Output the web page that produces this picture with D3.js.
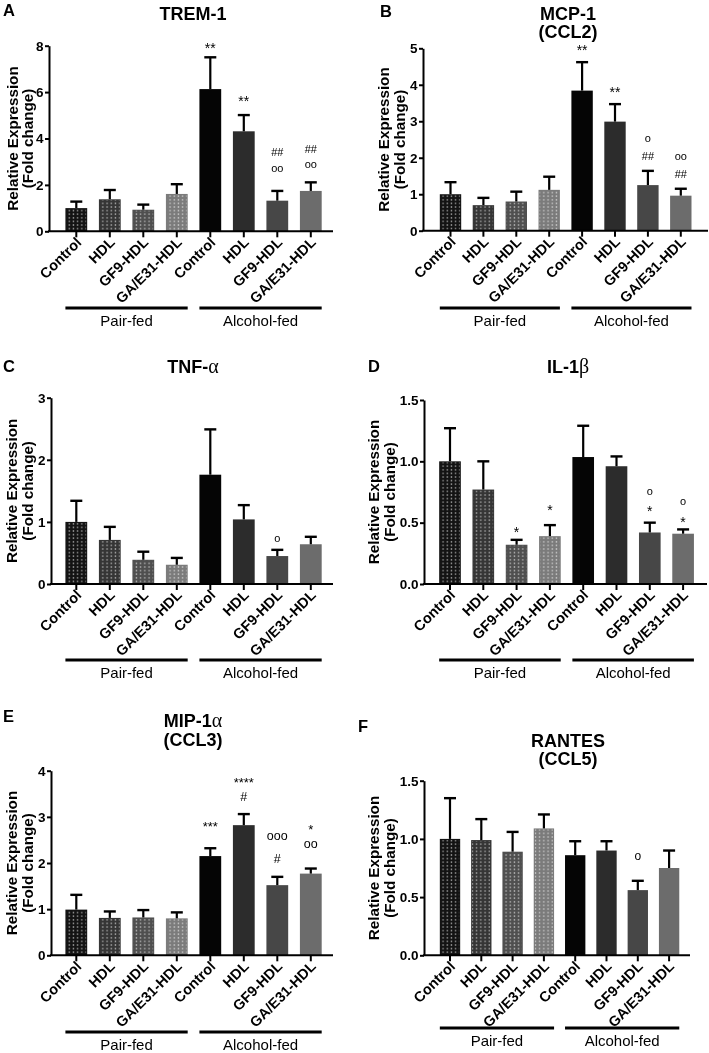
<!DOCTYPE html>
<html><head><meta charset="utf-8">
<script src="https://cdn.jsdelivr.net/npm/d3@7"></script>
<style>
body{margin:0;background:#fff}
svg{display:block;will-change:transform}
text{font-family:"Liberation Sans",Arial,Helvetica,sans-serif;fill:#000}
</style>
</head><body>
<svg id="chart" width="709" height="1053"></svg>
<script>
// ---------------- DATA ----------------
const categories = ["Control","HDL","GF9-HDL","GA/E31-HDL","Control","HDL","GF9-HDL","GA/E31-HDL"];
const groups = ["Pair-fed","Alcohol-fed"];

const trem1Mean = [1.00,1.38,0.93,1.61,6.13,4.31,1.32,1.74];
const trem1Sem  = [0.28,0.40,0.22,0.42,1.37,0.70,0.42,0.37];
const trem1Ticks = [0,2,4,6,8];
const trem1Notes = [
  {i:4,t:"**",at:8.03},{i:5,t:"**",at:5.73},
  {i:6,t:"##",at:3.43},{i:6,t:"oo",at:2.69},
  {i:7,t:"##",at:3.55},{i:7,t:"oo",at:2.86}];

const mcp1Mean = [1.00,0.70,0.80,1.12,3.84,2.99,1.25,0.96];
const mcp1Sem  = [0.33,0.20,0.27,0.36,0.78,0.48,0.39,0.19];
const mcp1Ticks = [0,1,2,3,4,5];
const mcp1Notes = [
  {i:4,t:"**",at:5.04},{i:5,t:"**",at:3.90},
  {i:6,t:"o",at:2.51},{i:6,t:"##",at:2.05},
  {i:7,t:"oo",at:2.03},{i:7,t:"##",at:1.55}];

const tnfMean = [1.00,0.71,0.39,0.31,1.76,1.04,0.45,0.64];
const tnfSem  = [0.34,0.21,0.13,0.11,0.73,0.23,0.10,0.12];
const tnfTicks = [0,1,2,3];
const tnfNotes = [{i:6,t:"o",at:0.72}];

const il1bMean = [1.00,0.77,0.32,0.39,1.035,0.96,0.42,0.41];
const il1bSem  = [0.27,0.23,0.04,0.09,0.255,0.08,0.08,0.035];
const il1bTicks = [0,0.5,1.0,1.5];
const il1bNotes = [
  {i:2,t:"*",at:0.45},{i:3,t:"*",at:0.63},
  {i:6,t:"o",at:0.75},{i:6,t:"*",at:0.62},
  {i:7,t:"o",at:0.67},{i:7,t:"*",at:0.53}];

const mip1aMean = [0.99,0.81,0.82,0.80,2.15,2.82,1.52,1.77];
const mip1aSem  = [0.32,0.14,0.16,0.13,0.17,0.24,0.18,0.11];
const mip1aTicks = [0,1,2,3,4];
const mip1aNotes = [
  {i:4,t:"***",at:2.86},{i:5,t:"****",at:3.80},{i:5,t:"#",at:3.44},
  {i:6,t:"ooo",at:2.57},{i:6,t:"#",at:2.09},
  {i:7,t:"*",at:2.80},{i:7,t:"oo",at:2.40}];

const rantesMean = [1.00,0.99,0.89,1.09,0.86,0.90,0.56,0.75];
const rantesSem  = [0.35,0.18,0.17,0.12,0.12,0.08,0.08,0.15];
const rantesTicks = [0,0.5,1.0,1.5];
const rantesNotes = [{i:6,t:"o",at:0.85}];

// ---------------- STYLE / LAYOUT ----------------
const barColors = ["#131313","#353535","#4f4f4f","#7b7b7b","#050505","#2c2c2c","#474747","#6c6c6c"];

const panels = [
  {letter:"A", title:[["TREM-1"]], mean:trem1Mean, sem:trem1Sem, ticks:trem1Ticks, fmt:"d", notes:trem1Notes,
   L:{ax:49, y0:231.3, y1:45.7, c0:76.3, step:33.5, xEnd:333, lineY:308, tx:193, tb:[20], lx:3, lb:16, yl:[-37,-21.5], nfs:11, sfs:14}},
  {letter:"B", title:[["MCP-1"],["(CCL2)"]], mean:mcp1Mean, sem:mcp1Sem, ticks:mcp1Ticks, fmt:"d", notes:mcp1Notes,
   L:{ax:423, y0:230.7, y1:48.3, c0:450.5, step:32.9, xEnd:708, lineY:308, tx:568, tb:[19.5,38], lx:380, lb:17, yl:[-40,-23.5], nfs:11, sfs:14}},
  {letter:"C", title:[["TNF-","α"]], mean:tnfMean, sem:tnfSem, ticks:tnfTicks, fmt:"d", notes:tnfNotes,
   L:{ax:51, y0:584, y1:397.7, c0:76.3, step:33.5, xEnd:333, lineY:660, tx:193, tb:[372.5], lx:3, lb:372, yl:[-40,-23.5], nfs:11, sfs:14}},
  {letter:"D", title:[["IL-1","β"]], mean:il1bMean, sem:il1bSem, ticks:il1bTicks, fmt:".1f", notes:il1bNotes,
   L:{ax:424, y0:584, y1:400, c0:450, step:33.3, xEnd:707, lineY:660, tx:568, tb:[372.5], lx:368, lb:372, yl:[-51,-34.5], nfs:11, sfs:14}},
  {letter:"E", title:[["MIP-1","α"],["(CCL3)"]], mean:mip1aMean, sem:mip1aSem, ticks:mip1aTicks, fmt:"d", notes:mip1aNotes,
   L:{ax:51, y0:955.3, y1:770.7, c0:76.3, step:33.5, xEnd:333, lineY:1032, tx:193, tb:[726.5,745.5], lx:3, lb:722, yl:[-40,-23.5], nfs:12.5, sfs:13}},
  {letter:"F", title:[["RANTES"],["(CCL5)"]], mean:rantesMean, sem:rantesSem, ticks:rantesTicks, fmt:".1f", notes:rantesNotes,
   L:{ax:424, y0:955.3, y1:780.7, c0:450, step:31.3, xEnd:690, lineY:1028, tx:568, tb:[746.5,765], lx:358, lb:732, yl:[-51,-34.5], nfs:12, sfs:14}}
];

const svg = d3.select("#chart");
const defs = svg.append("defs");
const pat = defs.append("pattern").attr("id","dots").attr("patternUnits","userSpaceOnUse")
  .attr("width",4.2).attr("height",3.6);
pat.append("rect").attr("x",1.4).attr("y",1.2).attr("width",1.3).attr("height",1.2).attr("fill","rgba(255,255,255,0.75)");

function drawPanel(p){
  const L = p.L;
  const g = svg.append("g");
  const x = d3.scaleBand().domain(d3.range(categories.length))
    .range([L.c0 - L.step/2, L.c0 + (categories.length - 0.5)*L.step])
    .paddingInner(0.35).paddingOuter(0.175);
  const y = d3.scaleLinear().domain([0, d3.max(p.ticks)]).range([L.y0, L.y1]);
  const bw = x.bandwidth();

  // bars
  g.selectAll("rect.bar").data(p.mean).join("rect").attr("class","bar")
    .attr("x",(d,i)=>x(i)).attr("y",d=>y(d)).attr("width",bw).attr("height",d=>L.y0-y(d))
    .attr("fill",(d,i)=>barColors[i]);
  g.selectAll("rect.dot").data(p.mean.slice(0,4)).join("rect").attr("class","dot")
    .attr("x",(d,i)=>x(i)+1).attr("y",d=>y(d)+1).attr("width",bw-2).attr("height",d=>Math.max(0,L.y0-y(d)-2))
    .attr("fill","url(#dots)");

  // error bars
  const eb = g.selectAll("g.eb").data(p.mean).join("g").attr("class","eb");
  eb.append("line").attr("x1",(d,i)=>x(i)+bw/2).attr("x2",(d,i)=>x(i)+bw/2)
    .attr("y1",d=>y(d)).attr("y2",(d,i)=>y(d+p.sem[i])).attr("stroke","#000").attr("stroke-width",2.2);
  eb.append("line").attr("x1",(d,i)=>x(i)+bw/2-6).attr("x2",(d,i)=>x(i)+bw/2+6)
    .attr("y1",(d,i)=>y(d+p.sem[i])).attr("y2",(d,i)=>y(d+p.sem[i])).attr("stroke","#000").attr("stroke-width",2.4);

  // annotations
  g.selectAll("text.note").data(p.notes).join("text").attr("class","note")
    .attr("x",d=>x(d.i)+bw/2)
    .attr("y",d=>{
      const c = y(d.at);
      const ch = d.t[0];
      const fs = ch==="*" ? L.sfs : L.nfs;
      const k = ch==="*" ? 0.58 : (ch==="o" ? 0.27 : 0.36);
      return c + k*fs;
    })
    .attr("text-anchor","middle")
    .style("font-size",d=>(d.t[0]==="*"?L.sfs:L.nfs)+"px")
    .attr("fill","#111")
    .text(d=>d.t);

  // y axis
  const ya = g.append("g").attr("transform",`translate(${L.ax},0)`)
    .call(d3.axisLeft(y).tickValues(p.ticks).tickFormat(d3.format(p.fmt)).tickSize(4).tickPadding(1.5).tickSizeOuter(0));
  ya.select(".domain").attr("stroke","#000").attr("stroke-width",2);
  ya.selectAll(".tick line").attr("stroke","#000").attr("stroke-width",2);
  ya.selectAll(".tick text").style("font-size","13.5px").style("font-weight","bold").attr("fill","#000");

  // x axis
  const xa = g.append("g").attr("transform",`translate(0,${L.y0})`)
    .call(d3.axisBottom(x).tickSize(6).tickSizeOuter(0).tickFormat(i=>categories[i]));
  xa.select(".domain").remove();
  xa.selectAll(".tick line").attr("stroke","#000").attr("stroke-width",2);
  xa.selectAll(".tick text").attr("x",0).attr("y",0).attr("dy",0)
    .attr("text-anchor","end").attr("transform","translate(6,12) rotate(-45)")
    .style("font-size","14.5px").style("font-weight","bold").attr("fill","#000");
  g.append("line").attr("x1",L.ax-1).attr("x2",L.xEnd).attr("y1",L.y0).attr("y2",L.y0)
    .attr("stroke","#000").attr("stroke-width",2);

  // group lines
  groups.forEach((name,k)=>{
    const a = x(k*4), b = x(k*4+3)+bw;
    g.append("line").attr("x1",a).attr("x2",b).attr("y1",L.lineY).attr("y2",L.lineY)
      .attr("stroke","#000").attr("stroke-width",3);
    g.append("text").attr("x",(a+b)/2).attr("y",L.lineY+18).attr("text-anchor","middle")
      .style("font-size","15px").text(name);
  });

  // title
  p.title.forEach((parts,j)=>{
    const t = g.append("text").attr("x",L.tx).attr("y",L.tb[j]).attr("text-anchor","middle")
      .style("font-size","18px").style("font-weight","bold");
    t.append("tspan").text(parts[0]);
    if(parts[1]) t.append("tspan").style("font-family","'Liberation Serif',serif").style("font-weight","normal").style("font-size","20px").text(parts[1]);
  });

  // panel letter
  g.append("text").attr("x",L.lx).attr("y",L.lb).style("font-size","16.5px").style("font-weight","bold").text(p.letter);

  // y label
  const cy = (L.y0+L.y1)/2;
  ["Relative Expression","(Fold change)"].forEach((s,j)=>{
    g.append("text").attr("transform",`translate(${L.ax+L.yl[j]},${cy}) rotate(-90)`)
      .attr("text-anchor","middle").attr("dominant-baseline","central")
      .style("font-size","15.2px").style("font-weight","bold").text(s);
  });
}
panels.forEach(drawPanel);
</script>
</body></html>
